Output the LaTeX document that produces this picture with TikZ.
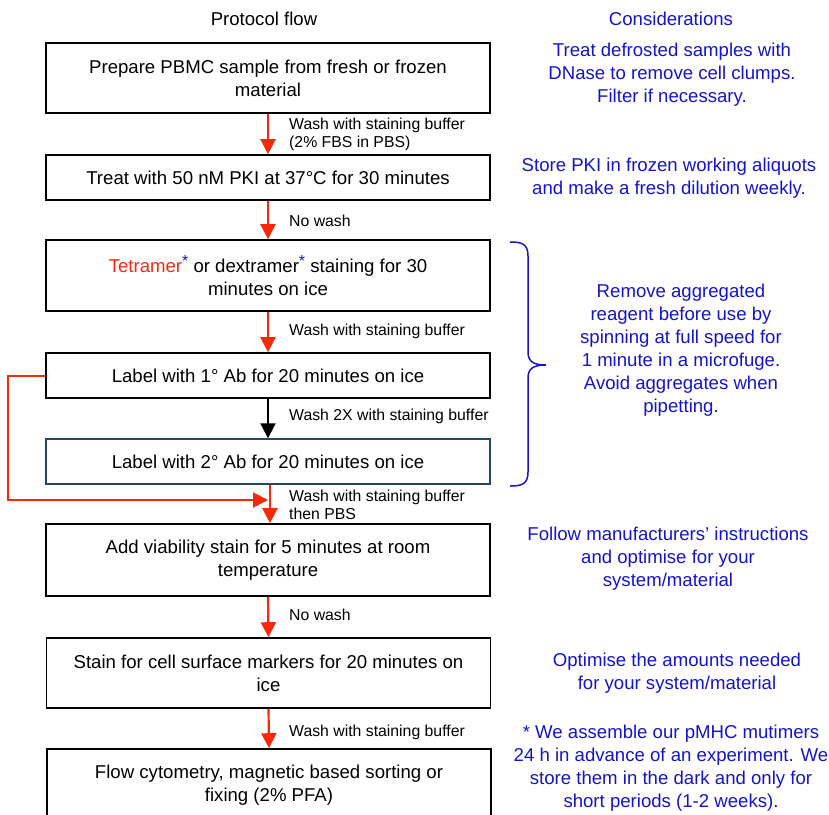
\documentclass[tikz,border=0pt]{standalone}
\usepackage{fontspec}
\setmainfont{Liberation Sans}
\usetikzlibrary{arrows.meta}
\definecolor{cred}{RGB}{250,40,10}
\definecolor{cblue}{RGB}{20,20,200}
\definecolor{cslate}{RGB}{40,70,100}
\newcommand{\mainsz}{\fontsize{18.6}{23}\selectfont}
\newcommand{\lblsz}{\fontsize{15.8}{18}\selectfont}
\newcommand{\bstar}{\raisebox{0.3em}{\fontsize{16}{16}\selectfont\color{cblue}*}}
\begin{document}
\begin{tikzpicture}[x=1pt,y=-1pt,
  box/.style={draw, line width=1.6pt, minimum width=444pt, align=center, font=\mainsz, inner sep=0pt},
  lbl/.style={anchor=west, align=left, font=\lblsz, inner sep=0pt},
  note/.style={align=center, font=\mainsz, text=cblue, inner sep=0pt},
  rarrow/.style={draw=cred, line width=2.2pt, -{Triangle[width=15pt,length=15pt]}},
  karrow/.style={draw=black, line width=2pt, -{Triangle[width=15pt,length=15pt]}}
]
\useasboundingbox (0,0) rectangle (829,814);

\node[font=\mainsz, inner sep=0pt] (h1) at (264,19) {Protocol flow};
\node[note] (h2) at (671,19) {Considerations};

\node[box, minimum height=70pt] (b1) at (268,78) {Prepare PBMC sample from fresh or frozen\\material};
\node[box, minimum height=45pt] (b2) at (268,177.5) {Treat with 50 nM PKI at 37°C for 30 minutes};
\node[box, minimum height=71pt] (b3) at (268,275.5) {{\color{cred}Tetramer}\bstar{} or dextramer\bstar{} staining for 30\\minutes on ice};
\node[box, minimum height=45pt] (b4) at (268,375.5) {Label with 1° Ab for 20 minutes on ice};
\node[box, draw=cslate, line width=1.4pt, minimum height=45pt] (b5) at (268,461.5) {Label with 2° Ab for 20 minutes on ice};
\node[box, minimum height=72pt] (b6) at (268,560) {Add viability stain for 5 minutes at room\\temperature};
\node[box, minimum height=70pt] (b7) at (268.5,673) {Stain for cell surface markers for 20 minutes on\\ice};
\node[box, minimum height=72pt] (b8) at (269,785) {Flow cytometry, magnetic based sorting or\\fixing (2\% PFA)};

\draw[rarrow] (b1.south) -- (b2.north);
\draw[rarrow] (b2.south) -- (b3.north);
\draw[rarrow] (b3.south) -- (b4.north);
\draw[karrow] (b4.south) -- (b5.north);
\draw[rarrow] ([xshift=2pt]b5.south) -- ([xshift=2pt]b6.north);
\draw[rarrow] (b6.south) -- (b7.north);
\draw[rarrow] (b7.south) -- (b8.north);

\coordinate (byp) at (268,500);
\draw[draw=cred, line width=2pt, -{Triangle[width=15pt,length=15pt]}]
  (b4.west) -- ++(-37,0) |- (byp);

\node[lbl] (l1) at (289,134) {Wash with staining buffer\\(2\% FBS in PBS)};
\node[lbl] (l2) at (289,221) {No wash};
\node[lbl] (l3) at (289,331) {Wash with staining buffer};
\node[lbl] (l4) at (289,416) {Wash 2X with staining buffer};
\node[lbl] (l5) at (289,505) {Wash with staining buffer\\then PBS};
\node[lbl] (l6) at (289,615) {No wash};
\node[lbl] (l7) at (289,732) {Wash with staining buffer};

\node[note] (n1) at (672,75) {Treat defrosted samples with\\DNase to remove cell clumps.\\Filter if necessary.};
\node[note] (n2) at (669,178.5) {Store PKI in frozen working aliquots\\and make a fresh dilution weekly.};
\node[note] (n3) at (681,350) {Remove aggregated\\reagent before use by\\spinning at full speed for\\1 minute in a microfuge.\\Avoid aggregates when\\pipetting.};
\node[note] (n4) at (668,558.5) {Follow manufacturers' instructions\\and optimise for your\\system/material};
\node[note] (n5) at (677,673.5) {Optimise the amounts needed\\for your system/material};
\node[note] (n6) at (671,768) {* We assemble our pMHC mutimers\\24 h in advance of an experiment. We\\store them in the dark and only for\\short periods (1-2 weeks).};

\draw[cblue, line width=1.5pt] (510,242) .. controls (522,242) and (528,244) .. (528,256)
  -- (528,352) .. controls (528,362) and (534,365) .. (546,365)
  .. controls (534,365) and (528,368) .. (528,378)
  -- (528,472) .. controls (528,484) and (522,486) .. (510,486);
\end{tikzpicture}
\end{document}
